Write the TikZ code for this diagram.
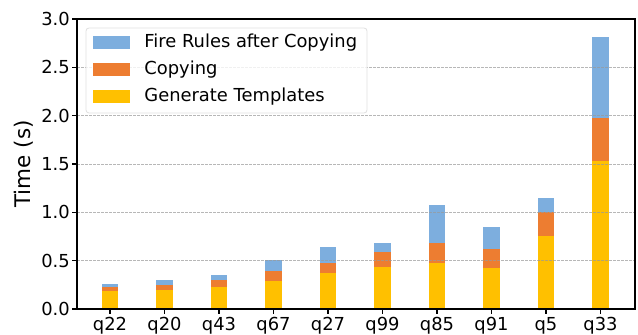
\documentclass[tikz,border=0pt]{standalone}
\usepackage{fontspec}
\setmainfont{DejaVu Sans}
\usetikzlibrary{positioning}

\definecolor{fireblue}{RGB}{125,174,222}
\definecolor{copyorange}{RGB}{237,125,49}
\definecolor{genyellow}{RGB}{255,192,0}

\begin{document}
\begin{tikzpicture}[
  x=1pt, y=1pt,
  lbl/.style={font=\fontsize{17.9}{20}\selectfont, inner sep=0pt},
  gridln/.style={gray!80, dashed, dash pattern=on 2.5pt off 1.5pt, line width=0.7pt, opacity=0.7},
  patch/.style={minimum width=37pt, minimum height=13pt, inner sep=0pt}
]
\useasboundingbox (0,0) rectangle (638,335);

% bars: name / templates / +copying / +fire rules (cumulative)
\foreach \nm/\ga/\gb/\gc [count=\i from 0] in
  {q22/0.19/0.23/0.26, q20/0.20/0.25/0.30, q43/0.23/0.30/0.35,
   q67/0.29/0.39/0.51, q27/0.37/0.48/0.64, q99/0.43/0.59/0.68,
   q85/0.48/0.68/1.08, q91/0.42/0.62/0.85, q5/0.76/1.00/1.15,
   q33/1.53/1.98/2.81} {
  \pgfmathsetmacro{\bx}{110+54.5*\i}
  \fill[genyellow] ({\bx-8.3},26) rectangle ({\bx+8.3},{26+96.67*\ga});
  \fill[copyorange] ({\bx-8.3},{26+96.67*\ga}) rectangle ({\bx+8.3},{26+96.67*\gb});
  \fill[fireblue] ({\bx-8.3},{26+96.67*\gb}) rectangle ({\bx+8.3},{26+96.67*\gc});
  \draw[line width=1.1pt] (\bx,26) -- (\bx,21);
  \node[lbl, anchor=north] (x\i) at (\bx,18) {\nm};
}

% grid over the bars
\foreach \v in {0.5,1.0,1.5,2.0,2.5}
  \draw[gridln] (77,{26+96.67*\v}) -- (635,{26+96.67*\v});

% y axis ticks
\foreach \v/\t [count=\j] in {0/0.0,0.5/0.5,1/1.0,1.5/1.5,2/2.0,2.5/2.5,3/3.0} {
  \draw[line width=1.1pt] (77,{26+96.67*\v}) -- (72,{26+96.67*\v});
  \node[lbl, anchor=east] (y\j) at (70,{26+96.67*\v}) {\t};
}
\node[font=\fontsize{21.5}{24}\selectfont, rotate=90] (ylab) at (24,171) {Time (s)};

% frame
\draw[line width=1.3pt] (77,26) rectangle (635,316);

% legend
\draw[gray!25, fill=white, fill opacity=0.8, rounded corners=3pt, line width=0.8pt] (86,222) rectangle (367,307);
\node[patch, fill=fireblue] (lf) at (111.5,292) {};
\node[patch, fill=copyorange, below=13.5pt of lf] (lc) {};
\node[patch, fill=genyellow, below=13.5pt of lc] (lg) {};
\node[lbl, anchor=west, right=14pt of lf] {Fire Rules after Copying};
\node[lbl, anchor=west, right=14pt of lc] {Copying};
\node[lbl, anchor=west, right=14pt of lg] {Generate Templates};
\end{tikzpicture}
\end{document}
